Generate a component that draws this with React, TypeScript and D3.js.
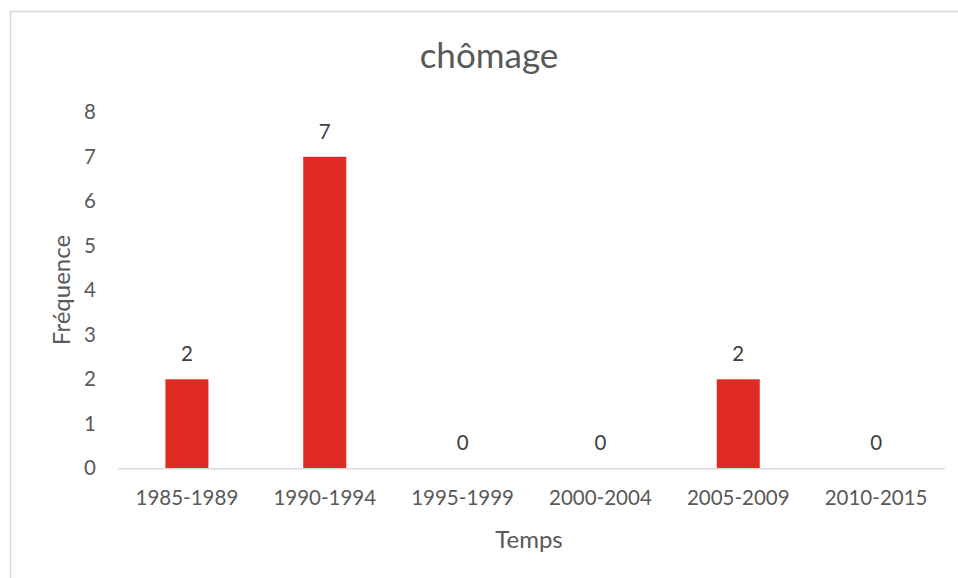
import React from "react";
import * as d3 from "d3";

const categories = ["1985-1989", "1990-1994", "1995-1999", "2000-2004", "2005-2009", "2010-2015"];
const values = [2, 7, 0, 0, 2, 0];
const yTicks = [0, 1, 2, 3, 4, 5, 6, 7, 8];
const title = "chômage";
const xTitle = "Temps";
const yTitle = "Fréquence";

const W = 958, H = 578;
const left = 118, right = 945, top = 112.3, bottom = 468.3;
const FONT = "Lato, 'Open Sans', sans-serif";
const TXT = "#595959";

export default function App() {
  const x = d3.scaleBand<string>().domain(categories).range([left, right]).paddingInner(0.688).paddingOuter(0.344);
  const y = d3.scaleLinear().domain([0, 8]).range([bottom, top]);
  return (
    <svg width={W} height={H} style={{ position: "absolute", left: 0, top: 0 }}>
      <rect x={0} y={0} width={W} height={H} fill="#fff" />
      <rect x={10.5} y={11.5} width={W + 20} height={H + 20} fill="none" stroke="#d9d9d9" strokeWidth={1.5} />
      <text x={489} y={56} dy="0.35em" textAnchor="middle" fontFamily={FONT} fontSize={35} fill={TXT}>{title}</text>
      {yTicks.map(t => (
        <text key={t} x={96} y={y(t)} dy="0.35em" textAnchor="end" fontFamily={FONT} fontSize={20.5} fill={TXT}>{t}</text>
      ))}
      {categories.map((c, i) => (
        <g key={c}>
          {values[i] > 0 && (
            <rect x={x(c)} y={y(values[i])} width={x.bandwidth()} height={bottom - y(values[i])} fill="#E02B24" />
          )}
          <text x={x(c)! + x.bandwidth() / 2} y={y(values[i]) - 25} dy="0.35em" textAnchor="middle" fontFamily={FONT} fontSize={20.5} fill="#404040">{values[i]}</text>
          <text x={x(c)! + x.bandwidth() / 2} y={498} dy="0.35em" textAnchor="middle" fontFamily={FONT} fontSize={20.5} fill={TXT}>{c}</text>
        </g>
      ))}
      <line x1={left} x2={right} y1={bottom + 0.5} y2={bottom + 0.5} stroke="#d9d9d9" strokeWidth={1.5} />
      <text x={529} y={540} dy="0.35em" textAnchor="middle" fontFamily={FONT} fontSize={24} fill={TXT}>{xTitle}</text>
      <text transform={`translate(62,290) rotate(-90)`} dy="0.35em" textAnchor="middle" fontFamily={FONT} fontSize={24} fill={TXT}>{yTitle}</text>
    </svg>
  );
}
